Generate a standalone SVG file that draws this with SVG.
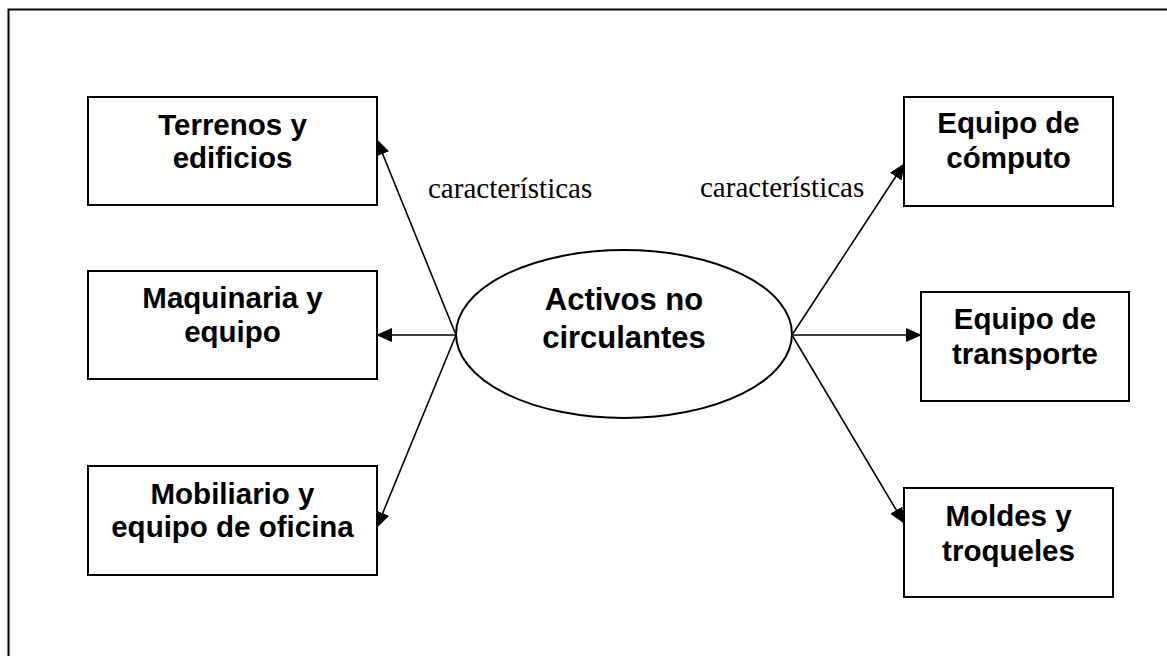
<svg xmlns="http://www.w3.org/2000/svg" width="1167" height="656" viewBox="0 0 1167 656">
<style>
.box{fill:#fff;stroke:#000;stroke-width:2}
.lbl{font-family:"Liberation Sans",Arial,sans-serif;font-weight:bold;font-size:29.5px;fill:#000;text-anchor:middle}
.big{font-size:31px}
.conn{stroke:#000;stroke-width:1.6;fill:none;marker-end:url(#ah)}
.note{font-family:"Liberation Serif","Times New Roman",serif;font-size:29px;fill:#000}
</style>
<defs>
<marker id="ah" viewBox="0 0 16 14" refX="15" refY="7" markerWidth="16" markerHeight="14" markerUnits="userSpaceOnUse" orient="auto">
<path d="M0,0 L16,7 L0,14 z" fill="#000"/>
</marker>
</defs>
<rect width="1167" height="656" fill="#fff"/>
<path d="M8.5,660 V9.5 H1170" fill="none" stroke="#000" stroke-width="2"/>
<g id="connectors">
<line class="conn" x1="456" y1="335" x2="377" y2="140"/>
<line class="conn" x1="456" y1="335" x2="377" y2="335"/>
<line class="conn" x1="456" y1="335" x2="377" y2="527"/>
<line class="conn" x1="792" y1="335" x2="904" y2="164"/>
<line class="conn" x1="792" y1="335" x2="921" y2="335"/>
<line class="conn" x1="792" y1="335" x2="904" y2="523"/>
<text class="note" x="428" y="198">características</text>
<text class="note" x="700" y="197">características</text>
</g>
<g id="activos">
<ellipse cx="624" cy="334" rx="168" ry="84" fill="#fff" stroke="#000" stroke-width="2"/>
<text class="lbl big" x="624" y="310">Activos no</text>
<text class="lbl big" x="624" y="348">circulantes</text>
</g>
<g id="terrenos">
<rect class="box" x="88" y="97" width="289" height="108"/>
<text class="lbl" x="232.5" y="135">Terrenos y</text>
<text class="lbl" x="232.5" y="168">edificios</text>
</g>
<g id="maquinaria">
<rect class="box" x="88" y="271" width="289" height="108"/>
<text class="lbl" x="232.5" y="308">Maquinaria y</text>
<text class="lbl" x="232.5" y="342">equipo</text>
</g>
<g id="mobiliario">
<rect class="box" x="88" y="466" width="289" height="109"/>
<text class="lbl" x="232.5" y="504">Mobiliario y</text>
<text class="lbl" x="232.5" y="537">equipo de oficina</text>
</g>
<g id="computo">
<rect class="box" x="904" y="97" width="209" height="109"/>
<text class="lbl" x="1008.5" y="133">Equipo de</text>
<text class="lbl" x="1008.5" y="168">cómputo</text>
</g>
<g id="transporte">
<rect class="box" x="921" y="292" width="208" height="109"/>
<text class="lbl" x="1025" y="329">Equipo de</text>
<text class="lbl" x="1025" y="364">transporte</text>
</g>
<g id="moldes">
<rect class="box" x="904" y="488" width="209" height="109"/>
<text class="lbl" x="1008.5" y="526">Moldes y</text>
<text class="lbl" x="1008.5" y="561">troqueles</text>
</g>
</svg>
